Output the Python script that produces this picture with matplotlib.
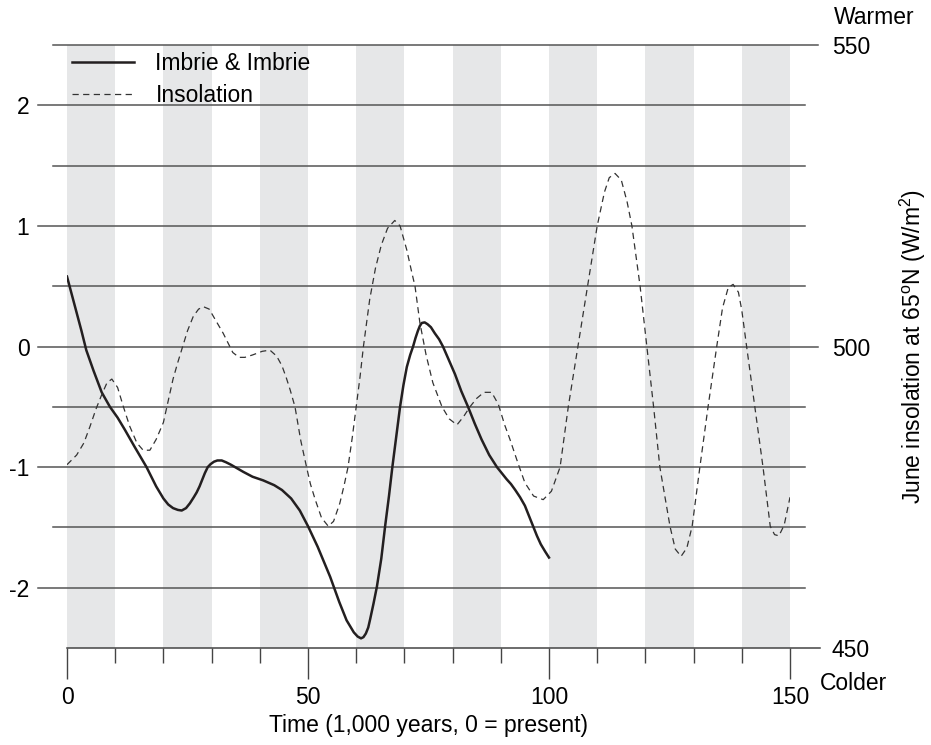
import matplotlib
matplotlib.use("Agg")
import matplotlib.pyplot as plt

plt.rcParams['font.family'] = ['Liberation Sans', 'DejaVu Sans']
plt.rcParams['mathtext.fontset'] = 'custom'
plt.rcParams['mathtext.rm'] = 'Liberation Sans'

W, H = 931, 745

# Imbrie & Imbrie ice-volume model (standardised units, left axis)
imbrie_time = [0, 1, 2, 3, 4, 5.5, 7.2, 8.9, 10.5, 12, 14, 16.5, 18.5, 20, 21,
               22, 23, 23.8, 24.7, 25.5, 26.3, 26.9, 27.5, 28, 28.6, 29.2,
               29.8, 30.5, 31.2, 32.1, 33, 34, 35.3, 36.6, 38.5, 40.7, 43,
               44.6, 46.5, 48.3, 50, 52, 54.6, 56.5, 58, 59.5, 60.3, 61, 61.5,
               62, 62.5, 62.9, 63.6, 64.3, 65.2, 66, 66.8, 67.5, 68.3, 69.1,
               69.8, 70.5, 71.2, 71.8, 72.3, 72.8, 73.2, 73.6, 74.2, 74.8,
               75.5, 76.3, 77.2, 78, 79.2, 80.5, 81.8, 83.2, 84.6, 86, 87.6,
               89.2, 90.2, 91.2, 92.1, 93, 94, 95, 95.8, 96.7, 97.5, 98.3,
               99.2, 100]
imbrie_value = [0.58, 0.43, 0.28, 0.13, -0.03, -0.2, -0.38, -0.5, -0.59, -0.69,
                -0.83, -1.0, -1.16, -1.26, -1.31, -1.34, -1.355, -1.36, -1.34,
                -1.3, -1.25, -1.21, -1.16, -1.11, -1.05, -1.0, -0.975, -0.955,
                -0.945, -0.945, -0.96, -0.98, -1.01, -1.04, -1.08, -1.11,
                -1.15, -1.19, -1.26, -1.36, -1.49, -1.66, -1.91, -2.12, -2.27,
                -2.37, -2.405, -2.42, -2.41, -2.38, -2.33, -2.26, -2.13, -1.99,
                -1.76, -1.49, -1.24, -1.0, -0.75, -0.5, -0.32, -0.17, -0.07,
                0.0, 0.07, 0.13, 0.17, 0.195, 0.2, 0.185, 0.16, 0.11, 0.06,
                0.0, -0.11, -0.23, -0.37, -0.5, -0.64, -0.77, -0.9, -1.0, -1.05,
                -1.1, -1.14, -1.19, -1.25, -1.32, -1.4, -1.49, -1.57, -1.64,
                -1.7, -1.75]

# June insolation at 65N (W/m2, right axis)
insol_time = [0, 2, 3.5, 4.8, 6, 7.2, 8.3, 9.3, 10.5, 11.7, 13, 14.5, 15.8,
              17.2, 18.5, 20, 21, 22, 23, 24, 25, 26.2, 27.3, 28.3, 29.5, 30.8,
              32.4, 34.4, 35.7, 36.9, 38.5, 40.5, 42.1, 43.5, 44.6, 45.5, 46.3,
              47.3, 48.5, 49.7, 50.5, 51.5, 52.8, 54.2, 55.3, 56.6, 57.5, 58.3,
              59.2, 60, 60.8, 61.5, 62.8, 64, 65.2, 66.5, 68, 69.1, 70.5, 71.5,
              72.2, 73.2, 74.5, 75.9, 77.8, 79.3, 80.9, 82.3, 83.6, 85, 86.5,
              88.1, 89.5, 90.8, 91.9, 93.5, 95, 96.8, 98.8, 100.5, 102.3, 104,
              106, 108, 110, 111.5, 112.5, 113.7, 115, 116.2, 117.2, 118.9,
              120.3, 121.7, 123, 125.1, 126.2, 127.4, 128.6, 129.7, 131.3, 133,
              134.8, 136, 137.2, 138.2, 139.3, 140, 141, 142.7, 144.4, 145.9,
              146.8, 147.7, 148.8, 150]
insol_value = [480.4, 482.0, 484.0, 486.8, 489.6, 492.0, 494.0, 494.6, 493.2,
               490.0, 486.8, 484.0, 482.8, 482.8, 484.6, 487.4, 491.0, 494.6,
               497.4, 500.0, 502.6, 505.0, 506.2, 506.6, 506.2, 504.4, 502.2,
               499.0, 498.2, 498.2, 498.6, 499.2, 499.4, 498.4, 496.8, 494.8,
               492.8, 490.0, 484.4, 480.0, 477.2, 474.6, 471.6, 470.2, 471.0,
               474.0, 477.0, 480.0, 485.0, 490.0, 495.0, 500.0, 507.8, 513.0,
               516.8, 519.6, 520.9, 520.0, 516.0, 512.4, 510.0, 504.0, 498.6,
               494.0, 490.0, 488.0, 487.0, 488.4, 490.0, 491.4, 492.4, 492.4,
               490.4, 487.0, 484.6, 480.8, 477.4, 475.2, 474.6, 476.0, 480.0,
               490.0, 500.0, 510.0, 520.0, 525.6, 528.0, 528.7, 527.6, 524.0,
               520.0, 510.0, 500.0, 490.0, 480.0, 470.2, 466.4, 465.2, 466.6,
               470.2, 480.0, 490.0, 500.0, 506.4, 509.8, 510.3, 509.0, 506.0,
               500.0, 490.0, 480.0, 470.2, 468.8, 468.6, 470.4, 475.0]

band_starts = [0, 20, 40, 60, 80, 100, 120, 140]
left_ticks = [-2, -1, 0, 1, 2]
right_ticks = [450, 500, 550]
x_labels = [0, 50, 100, 150]

fig = plt.figure(figsize=(W / 100, H / 100), dpi=100)
ax = fig.add_axes([67 / W, 97 / H, 723 / W, 603 / H])
ax.set_xlim(0, 150)
ax.set_ylim(-2.5, 2.5)
for s in ax.spines.values():
    s.set_visible(False)

# grey bands every other 10 kyr
for b in band_starts:
    ax.axvspan(b, b + 10, color='#e6e7e8', lw=0, zorder=0)

# horizontal rules: labelled ones reach further left
for k in range(10):
    yv = 2.5 - 0.5 * k
    x0 = -6.0 if yv in left_ticks else -2.9
    x1 = 155.8 if yv in (2.5, 0.0) else 153.1
    ax.plot([x0, x1], [yv, yv], color='#555555', lw=1.1, clip_on=False,
            zorder=1)
ax.plot([0, 156.2], [-2.5, -2.5], color='#444444', lw=1.1, clip_on=False,
        zorder=1)

ax.plot(imbrie_time, imbrie_value, color='#231f20', lw=1.8, zorder=4,
        label='Imbrie & Imbrie', solid_joinstyle='round')

ax2 = ax.twinx()
ax2.set_ylim(450, 550)
for s in ax2.spines.values():
    s.set_visible(False)
line2, = ax2.plot(insol_time, insol_value, color='#333333', lw=0.9,
                  linestyle=(0, (5, 3.5)), zorder=3, label='Insolation')

# bottom axis ticks
ax.set_xticks(x_labels)
ax.set_xticks(range(0, 151, 10), minor=True)
ax.tick_params(axis='x', which='major', length=22, width=1.0,
               color='#444444', labelsize=16.5, pad=5)
ax.tick_params(axis='x', which='minor', length=10.5, width=1.0,
               color='#444444')
ax.set_yticks(left_ticks)
ax.set_yticklabels([str(v) for v in left_ticks])
ax.tick_params(axis='y', length=0, labelsize=16.5, pad=27)

ax2.set_yticks(right_ticks)
ax2.tick_params(axis='y', length=0, labelsize=16.5, pad=30)
ax2.set_ylabel(r'June insolation at 65$^{\mathrm{o}}$N (W/m$^{2}$)',
               fontsize=16.5, labelpad=20)

ax.set_xlabel('Time (1,000 years, 0 = present)', fontsize=16.5, labelpad=4)

fig.text(834 / W, 1 - 18 / H, 'Warmer', fontsize=16.5, va='center',
         ha='left')
fig.text(820 / W, 1 - 683 / H, 'Colder', fontsize=16.5, va='center',
         ha='left')

h1, l1 = ax.get_legend_handles_labels()
leg = ax.legend(h1 + [line2], l1 + ['Insolation'], loc='upper left',
                bbox_to_anchor=(-0.006, 1.004), frameon=False, fontsize=16.5,
                handlelength=2.7, handletextpad=0.95, labelspacing=0.4,
                borderaxespad=0)
leg.set_zorder(6)

fig.savefig('out.png', dpi=100)
plt.close(fig)
